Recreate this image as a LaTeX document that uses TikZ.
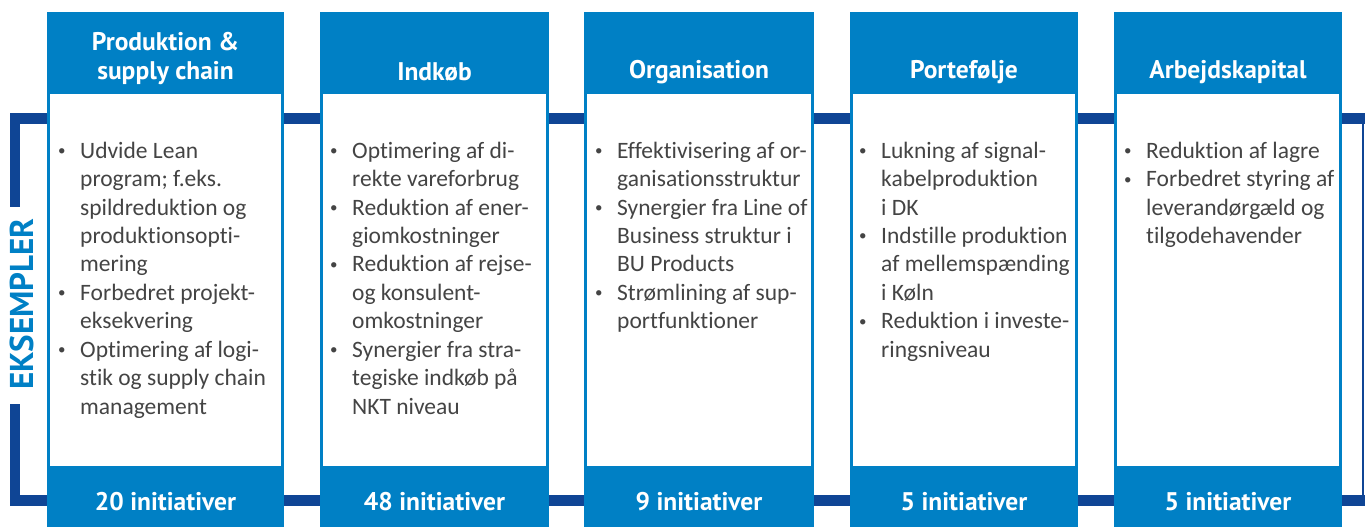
\documentclass[tikz,border=0pt]{standalone}
\usepackage{fontspec}
\setmainfont{Carlito}[Ligatures={NoCommon}]
\newfontfamily\headfont{PT Sans}
\definecolor{colblue}{HTML}{0080C5}
\definecolor{navy}{HTML}{0F4595}
\definecolor{bodytext}{HTML}{444444}

% small list bullet
\newcommand\lbul{\raisebox{2.5pt}{\fontsize{15}{15}\selectfont\textbullet}}

% bullet list bodies, one row per printed line
\newcommand\bodyProd{%
\lbul & Udvide Lean\\
 & program; f.eks.\\
 & spildreduktion og\\
 & produktionsopti-\\
 & mering\\
\lbul & Forbedret projekt-\\
 & eksekvering\\
\lbul & Optimering af logi-\\
 & stik og supply chain\\
 & management}
\newcommand\bodyIndk{%
\lbul & Optimering af di-\\
 & rekte vareforbrug\\
\lbul & Reduktion af ener-\\
 & giomkostninger\\
\lbul & Reduktion af rejse-\\
 & og konsulent-\\
 & omkostninger\\
\lbul & Synergier fra stra-\\
 & tegiske indkøb på\\
 & NKT niveau}
\newcommand\bodyOrg{%
\lbul & Effektivisering af or-\\
 & ganisationsstruktur\\
\lbul & Synergier fra Line of\\
 & Business struktur i\\
 & BU Products\\
\lbul & Strømlining af sup-\\
 & portfunktioner}
\newcommand\bodyPort{%
\lbul & Lukning af signal-\\
 & kabelproduktion\\
 & i DK\\
\lbul & Indstille produktion\\
 & af mellemspænding\\
 & i Køln\\
\lbul & Reduktion i investe-\\
 & ringsniveau}
\newcommand\bodyArb{%
\lbul & Reduktion af lagre\\
\lbul & Forbedret styring af\\
 & leverandørgæld og\\
 & tilgodehavender}

\begin{document}
\begin{tikzpicture}[x=1pt,y=-1pt,
  band/.style={fill=navy},
  colframe/.style={fill=colblue},
  colbody/.style={fill=white},
  headtext/.style={text=white,align=center,inner sep=0pt,
    font=\headfont\bfseries\fontsize{25.5}{29}\selectfont},
  bodylist/.style={anchor=north west,inner sep=0pt,text=bodytext,
    font=\fontsize{23.5}{28.45}\selectfont},
  counttext/.style={text=white,inner sep=0pt,
    font=\headfont\bfseries\fontsize{25.5}{29}\selectfont},
  sidelabel/.style={text=colblue,rotate=90,inner sep=0pt,
    font=\headfont\bfseries\fontsize{33}{33}\selectfont}]
\useasboundingbox (0,0) rectangle (1365,527);

% navy frame running behind the columns
\fill[band] (10,113) rectangle (1365,124);
\fill[band] (10,495) rectangle (1365,506);
\fill[band] (10,113) rectangle (20,207);
\fill[band] (10,404) rectangle (20,506);
\fill[band] (1362,113) rectangle (1364,506);

% columns: blue frame, white body
\foreach \l/\r in {47/284,320/549,584/814,850/1078,1114/1342}{
  \fill[colframe] (\l,12) rectangle (\r,527);
  \fill[colbody] (\l+3,94) rectangle (\r-3,466);
}

% headers
\node[headtext] (h1) at (165.5,58.5) {Produktion \&\\supply chain};
\node[headtext] (h2) at (434.5,72) {Indkøb};
\node[headtext] (h3) at (699,72) {Organisation};
\node[headtext] (h4) at (964,72) {Portefølje};
\node[headtext] (h5) at (1228,72) {Arbejdskapital};

% bodies
\node[bodylist] (b1) at (58,138)
  {\begin{tabular}{@{}p{22pt}@{}l@{}}\bodyProd\end{tabular}};
\node[bodylist] (b2) at (330,138)
  {\begin{tabular}{@{}p{22pt}@{}l@{}}\bodyIndk\end{tabular}};
\node[bodylist] (b3) at (595,138)
  {\begin{tabular}{@{}p{22pt}@{}l@{}}\bodyOrg\end{tabular}};
\node[bodylist] (b4) at (859,138)
  {\begin{tabular}{@{}p{22pt}@{}l@{}}\bodyPort\end{tabular}};
\node[bodylist] (b5) at (1124,138)
  {\begin{tabular}{@{}p{22pt}@{}l@{}}\bodyArb\end{tabular}};

% footers
\node[counttext] (f1) at (165.5,502) {20 initiativer};
\node[counttext] (f2) at (434.5,502) {48 initiativer};
\node[counttext] (f3) at (699,502) {9 initiativer};
\node[counttext] (f4) at (964,502) {5 initiativer};
\node[counttext] (f5) at (1228,502) {5 initiativer};

% side label
\node[sidelabel] (ex) at (21.5,304) {EKSEMPLER};
\end{tikzpicture}
\end{document}
